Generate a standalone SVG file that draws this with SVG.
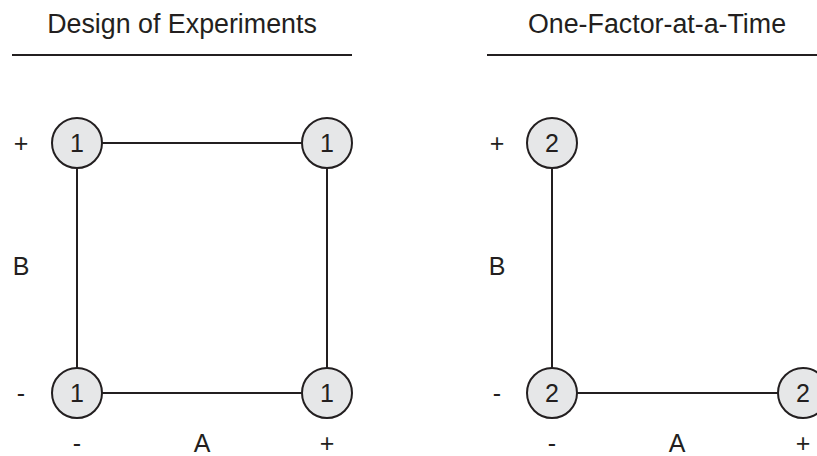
<svg xmlns="http://www.w3.org/2000/svg" width="817" height="456" viewBox="0 0 817 456">
<style>
text{font-family:"Liberation Sans",Arial,sans-serif;font-size:25px;fill:#231f20;text-anchor:middle}
.title{font-size:26.8px}
.rule{stroke:#231f20;stroke-width:2}
.edge{stroke:#231f20;stroke-width:2;fill:none}
.node circle{fill:#e6e7e8;stroke:#231f20;stroke-width:2}
</style>
<rect width="817" height="456" fill="#ffffff"/>
<text class="title" x="182" y="33">Design of Experiments</text>
<text class="title" x="657" y="33">One-Factor-at-a-Time</text>
<line class="rule" x1="12" y1="55" x2="352" y2="55"/>
<line class="rule" x1="487" y1="55" x2="817" y2="55"/>
<g id="connectors">
<line class="edge" x1="102" y1="143" x2="302" y2="143"/>
<line class="edge" x1="77" y1="168" x2="77" y2="368"/>
<line class="edge" x1="327" y1="168" x2="327" y2="368"/>
<line class="edge" x1="102" y1="393" x2="302" y2="393"/>
<line class="edge" x1="552" y1="168" x2="552" y2="368"/>
<line class="edge" x1="577" y1="393" x2="778" y2="393"/>
</g>
<g id="doe-tl" class="node"><circle cx="77" cy="143" r="25"/><text x="77" y="152">1</text></g>
<g id="doe-tr" class="node"><circle cx="327" cy="143" r="25"/><text x="327" y="152">1</text></g>
<g id="doe-bl" class="node"><circle cx="77" cy="393" r="25"/><text x="77" y="402">1</text></g>
<g id="doe-br" class="node"><circle cx="327" cy="393" r="25"/><text x="327" y="402">1</text></g>
<g id="ofat-tl" class="node"><circle cx="552" cy="143" r="25"/><text x="552" y="152">2</text></g>
<g id="ofat-bl" class="node"><circle cx="552" cy="393" r="25"/><text x="552" y="402">2</text></g>
<g id="ofat-br" class="node"><circle cx="803" cy="393" r="25"/><text x="803" y="402">2</text></g>
<g id="labels">
<text x="21" y="152">+</text>
<text x="21" y="275">B</text>
<text x="21" y="402">-</text>
<text x="77" y="452">-</text>
<text x="202" y="452">A</text>
<text x="327" y="452">+</text>
<text x="497" y="152">+</text>
<text x="497" y="275">B</text>
<text x="497" y="402">-</text>
<text x="552" y="452">-</text>
<text x="677" y="452">A</text>
<text x="803" y="452">+</text>
</g>
</svg>
